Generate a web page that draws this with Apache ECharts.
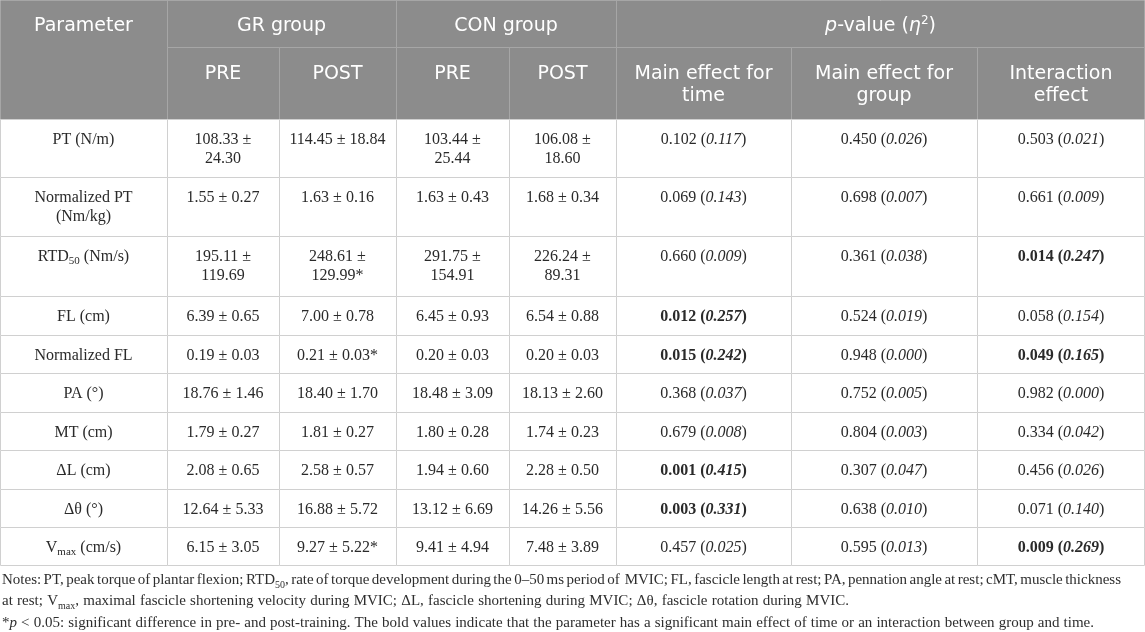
<!DOCTYPE html>
<html><head><meta charset="utf-8">
<script src="https://cdn.jsdelivr.net/npm/echarts@6/dist/echarts.min.js"></script>
<style>html,body{margin:0;padding:0;background:#fff}#c{width:1145px;height:632px}</style>
</head><body><div id="c"></div>
<script>
// ---------------- data ----------------
const parameters = ['PT (N/m)', 'Normalized PT (Nm/kg)', 'RTD_{50} (Nm/s)', 'FL (cm)', 'Normalized FL', 'PA (°)', 'MT (cm)', 'ΔL (cm)', 'Δθ (°)', 'V_{max} (cm/s)'];
const grPreMean  = [108.33, 1.55, 195.11, 6.39, 0.19, 18.76, 1.79, 2.08, 12.64, 6.15];
const grPreSd    = [24.30, 0.27, 119.69, 0.65, 0.03, 1.46, 0.27, 0.65, 5.33, 3.05];
const grPostMean = [114.45, 1.63, 248.61, 7.00, 0.21, 18.40, 1.81, 2.58, 16.88, 9.27];
const grPostSd   = [18.84, 0.16, 129.99, 0.78, 0.03, 1.70, 0.27, 0.57, 5.72, 5.22];
const grPostSignificant = [false, false, true, false, true, false, false, false, false, true];
const conPreMean  = [103.44, 1.63, 291.75, 6.45, 0.20, 18.48, 1.80, 1.94, 13.12, 9.41];
const conPreSd    = [25.44, 0.43, 154.91, 0.93, 0.03, 3.09, 0.28, 0.60, 6.69, 4.94];
const conPostMean = [106.08, 1.68, 226.24, 6.54, 0.20, 18.13, 1.74, 2.28, 14.26, 7.48];
const conPostSd   = [18.60, 0.34, 89.31, 0.88, 0.03, 2.60, 0.23, 0.50, 5.56, 3.89];
const timeP    = [0.102, 0.069, 0.660, 0.012, 0.015, 0.368, 0.679, 0.001, 0.003, 0.457];
const timeEta  = [0.117, 0.143, 0.009, 0.257, 0.242, 0.037, 0.008, 0.415, 0.331, 0.025];
const groupP   = [0.450, 0.698, 0.361, 0.524, 0.948, 0.752, 0.804, 0.307, 0.638, 0.595];
const groupEta = [0.026, 0.007, 0.038, 0.019, 0.000, 0.005, 0.003, 0.047, 0.010, 0.013];
const interP   = [0.503, 0.661, 0.014, 0.058, 0.049, 0.982, 0.334, 0.456, 0.071, 0.009];
const interEta = [0.021, 0.009, 0.247, 0.154, 0.165, 0.000, 0.042, 0.026, 0.140, 0.269];
const parameterHeader = 'Parameter';
const groupHeaders = ['GR group', 'CON group'];
const timeHeaders = ['PRE', 'POST'];
const pValueHeader = '{hi|p}{h|-value (}{hi|η}{sup|2}{h|)}';
const effectHeaders = ['Main effect for\ntime', 'Main effect for\ngroup', 'Interaction\neffect'];
const notesLines = [
  'Notes: PT, peak torque of plantar flexion; RTD{sub|50}, rate of torque development during the 0–50 ms period of  MVIC; FL, fascicle length at rest; PA, pennation angle at rest; cMT, muscle thickness',
  'at rest; V{sub|max}, maximal fascicle shortening velocity during MVIC; ΔL, fascicle shortening during MVIC; Δθ, fascicle rotation during MVIC.',
  '*{i|p} < 0.05: significant difference in pre- and post-training. The bold values indicate that the parameter has a significant main effect of time or an interaction between group and time.'
];
const alpha = 0.05;

// ---------------- layout / style ----------------
const colWidths = [167, 112, 117, 113, 107, 175, 186, 168];
const wrapWidths = [130, 95, 108, 95, 95, 160, 170, 150];
const headerHeights = [47, 72];
const bodyHeights = [58, 59, 60, 38.5, 38.5, 38.5, 38.5, 38.5, 38.5, 38];
const headerBg = '#8c8c8c', headerLine = '#a6a6a6', bodyLine = '#d0d0d0';
const bodyColor = '#2a2a2a', notesColor = '#2e2e2e';
const serifName = "'Liberation Serif'";
const serif = "'Liberation Serif','Times New Roman',serif";
const sans = "'DejaVu Sans','Noto Sans',sans-serif";
const bodyFont = 16, bodyLH = 18.5, bodyPad = 12;
const headFont = 19, headLH = 22, headPads = [15, 16];
const notesFont = 15, notesTop = 580, notesGap = 21.5, notesLeft = 2;
const notesRight = [1121, 849, 1094];

function cum(arr) { const out = [0]; arr.forEach(v => out.push(out[out.length - 1] + v)); return out; }
const colEdges = cum(colWidths);
const rowEdges = cum(headerHeights.concat(bodyHeights));
const totalW = colEdges[colEdges.length - 1];
const totalH = rowEdges[rowEdges.length - 1];

// text measuring helpers (for wrapping / justification)
const mctx = document.createElement('canvas').getContext('2d');
function tw(str, font) { mctx.font = font; return mctx.measureText(str).width; }
function wrapWords(str, font, maxW) {
  const words = str.split(' ');
  const lines = []; let cur = '';
  words.forEach(w => {
    const t = cur ? cur + ' ' + w : w;
    if (cur && tw(t, font) > maxW) { lines.push(cur); cur = w; } else cur = t;
  });
  if (cur) lines.push(cur);
  return lines;
}
const bodyCss = bodyFont + 'px ' + serifName;

function mk(base, extra) { return Object.assign({}, base, extra); }
const bBase = { fontFamily: serif, fontSize: bodyFont, lineHeight: bodyLH, fill: bodyColor };
const bodyRich = {
  n: bBase,
  i: mk(bBase, { fontStyle: 'italic' }),
  b: mk(bBase, { fontWeight: 'bold' }),
  bi: mk(bBase, { fontStyle: 'italic', fontWeight: 'bold' }),
  sub: mk(bBase, { fontSize: 11, lineHeight: 11, verticalAlign: 'bottom' })
};
const hBase = { fontFamily: sans, fontSize: headFont, lineHeight: headLH, fill: '#ffffff' };
const headRich = {
  h: hBase,
  hi: mk(hBase, { fontStyle: 'italic' }),
  sup: mk(hBase, { fontSize: 12, lineHeight: 12, verticalAlign: 'top' })
};

function fmtMean(m, s, star, wrapW) {
  const str = m.toFixed(2) + ' ± ' + s.toFixed(2) + (star ? '*' : '');
  return wrapWords(str, bodyCss, wrapW).map(l => '{n|' + l + '}').join('\n');
}
function fmtP(p, eta) {
  const sig = p < alpha;
  const a = sig ? 'b' : 'n', b = sig ? 'bi' : 'i';
  return '{' + a + '|' + p.toFixed(3) + ' (}{' + b + '|' + eta.toFixed(3) + '}{' + a + '|)}';
}
function fmtParam(name, wrapW) {
  if (name.indexOf('_{') >= 0) return '{n|' + name.replace(/_\{([^}]*)\}/g, '}{sub|$1}{n|') + '}';
  return wrapWords(name, bodyCss, wrapW).map(l => '{n|' + l + '}').join('\n');
}
function fmtHeadLines(t) { return t.split('\n').map(s => '{h|' + s + '}').join('\n'); }

// ---------------- cells ----------------
const cells = [];
function addCell(c0, c1, r0, r1, text, header) {
  cells.push({ value: [colEdges[c0], colEdges[c1], rowEdges[r0], rowEdges[r1]], text: text, header: header, row: r0 });
}
addCell(0, 1, 0, 2, fmtHeadLines(parameterHeader), true);
groupHeaders.forEach((g, i) => addCell(1 + 2 * i, 3 + 2 * i, 0, 1, fmtHeadLines(g), true));
addCell(5, 8, 0, 1, pValueHeader, true);
[0, 1].forEach(g => timeHeaders.forEach((t, j) => addCell(1 + 2 * g + j, 2 + 2 * g + j, 1, 2, fmtHeadLines(t), true)));
effectHeaders.forEach((e, i) => addCell(5 + i, 6 + i, 1, 2, fmtHeadLines(e), true));
parameters.forEach((p, r) => {
  const row = r + 2;
  const texts = [
    fmtParam(p, wrapWidths[0]),
    fmtMean(grPreMean[r], grPreSd[r], false, wrapWidths[1]),
    fmtMean(grPostMean[r], grPostSd[r], grPostSignificant[r], wrapWidths[2]),
    fmtMean(conPreMean[r], conPreSd[r], false, wrapWidths[3]),
    fmtMean(conPostMean[r], conPostSd[r], false, wrapWidths[4]),
    fmtP(timeP[r], timeEta[r]),
    fmtP(groupP[r], groupEta[r]),
    fmtP(interP[r], interEta[r])
  ];
  texts.forEach((t, c) => addCell(c, c + 1, row, row + 1, t, false));
});

// ---------------- notes (justified like the source) ----------------
const notesFontCss = { base: notesFont + 'px ' + serifName, sub: '10px ' + serifName, i: 'italic ' + notesFont + 'px ' + serifName };
function justify(line, targetW) {
  const parts = line.split(/(\{[a-z]+\|[^}]*\})/).filter(s => s.length);
  let natural = 0, gaps = 0;
  parts.forEach(p => {
    const m = p.match(/^\{([a-z]+)\|([^}]*)\}$/);
    if (m) natural += tw(m[2], notesFontCss[m[1]] || notesFontCss.base);
    else { natural += tw(p, notesFontCss.base); gaps += (p.match(/ /g) || []).length; }
  });
  const spaceW = tw(' ', notesFontCss.base) + (targetW - natural) / gaps;
  const text = parts.map(p => /^\{[a-z]+\|/.test(p) ? p : p.split(' ').map(w => w.length ? '{t|' + w + '}' : '').join('{sp| }')).join('');
  return { text: text, spaceW: spaceW };
}
const nBase = { fontFamily: serif, fontSize: notesFont, lineHeight: 20, fill: notesColor };
const notesGraphics = notesLines.map((line, i) => {
  const j = justify(line, notesRight[i] - notesLeft);
  return {
    type: 'text', x: notesLeft, y: notesTop + i * notesGap, silent: true,
    style: {
      text: j.text, verticalAlign: 'middle', align: 'left',
      fontFamily: serif, fontSize: notesFont, fill: notesColor,
      rich: {
        t: nBase,
        sp: mk(nBase, { width: j.spaceW }),
        sub: mk(nBase, { fontSize: 10, lineHeight: 10, verticalAlign: 'bottom' }),
        i: mk(nBase, { fontStyle: 'italic' })
      }
    }
  };
});

// ---------------- chart ----------------
const chart = echarts.init(document.getElementById('c'), null, { renderer: 'canvas' });
chart.setOption({
  animation: false,
  grid: { left: 0, top: 0, width: totalW, height: totalH },
  xAxis: { type: 'value', min: 0, max: totalW, show: false },
  yAxis: { type: 'value', min: 0, max: totalH, inverse: true, show: false },
  graphic: notesGraphics,
  series: [{
    type: 'custom',
    coordinateSystem: 'cartesian2d',
    encode: { x: [0, 1], y: [2, 3] },
    data: cells.map(c => ({ value: c.value })),
    renderItem: function (params, api) {
      const cell = cells[params.dataIndex];
      const p0 = api.coord([api.value(0), api.value(2)]);
      const p1 = api.coord([api.value(1), api.value(3)]);
      const x = Math.round(p0[0]), y = Math.round(p0[1]);
      const w = Math.round(p1[0]) - x, h = Math.round(p1[1]) - y;
      const lastCol = Math.round(p1[0]) >= totalW;
      return {
        type: 'group',
        children: [
          { type: 'rect', shape: { x: x + 0.5, y: y + 0.5, width: w - (lastCol ? 1 : 0), height: h },
            style: { fill: cell.header ? headerBg : '#ffffff', stroke: cell.header ? headerLine : bodyLine, lineWidth: 1 } },
          { type: 'text',
            style: {
              x: x + w / 2, y: y + (cell.header ? headPads[cell.row] : bodyPad),
              text: cell.text, align: 'center', verticalAlign: 'top',
              fontFamily: cell.header ? sans : serif,
              fontSize: cell.header ? headFont : bodyFont,
              lineHeight: cell.header ? headLH : bodyLH,
              fill: cell.header ? '#fff' : bodyColor,
              rich: cell.header ? headRich : bodyRich
            } }
        ]
      };
    }
  }]
});
</script>
</body></html>
